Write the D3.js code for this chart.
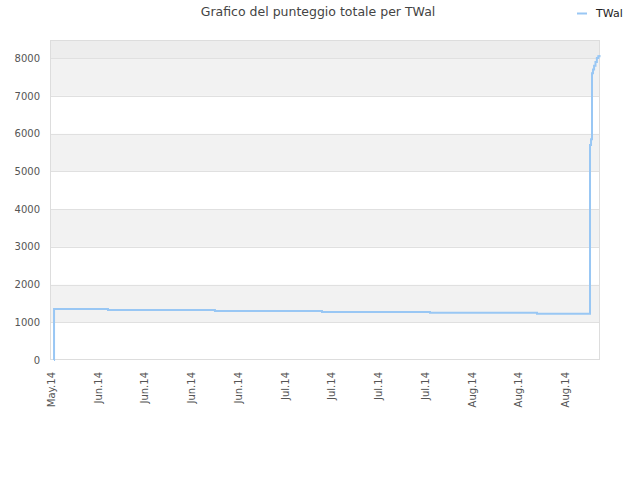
<!DOCTYPE html>
<html><head><meta charset="utf-8">
<script src="https://cdn.jsdelivr.net/npm/d3@7"></script>
<style>body{margin:0;background:#fff;}svg{display:block;font-family:"DejaVu Sans",sans-serif;}</style>
</head><body><svg id="c" width="640" height="480"></svg>
<script>
const title = "Grafico del punteggio totale per TWal";
const seriesName = "TWal";
const dates = ["2014-05-30T07:30","2014-05-30T07:31","2014-06-07T09:30","2014-06-23T10:00","2014-07-09T10:45","2014-07-25T15:00","2014-08-10T15:45","2014-08-18T14:20","2014-08-18T18:00","2014-08-18T21:30","2014-08-19T01:00","2014-08-19T05:00","2014-08-19T10:00","2014-08-19T15:00","2014-08-19T20:00","2014-08-20T00:30"];
const values = [0,1350,1325,1300,1275,1250,1225,5700,5850,7600,7700,7800,7900,8000,8050,8080];
const tickDates = ["2014-05-30","2014-06-06","2014-06-13","2014-06-20","2014-06-27","2014-07-04","2014-07-11","2014-07-18","2014-07-25","2014-08-01","2014-08-08","2014-08-15"];
const yTicks = [0,1000,2000,3000,4000,5000,6000,7000,8000];
const domainStart = "2014-05-29T17:00", domainEnd = "2014-08-20T02:15";
const yMax = 8480;

const parse = d3.timeParse("%Y-%m-%dT%H:%M");
const parseD = d3.timeParse("%Y-%m-%d");
const data = dates.map((d,i)=>({t:parse(d), v:values[i]}));
const svg = d3.select("#c");
const L=50,R=600,T=40,B=360;
const x = d3.scaleTime().domain([parse(domainStart),parse(domainEnd)]).range([L,R]);
const y = d3.scaleLinear().domain([0,yMax]).range([B,T]);

// bands
const bands = [];
for (let i=0;i<yTicks.length;i++){
  const lo=yTicks[i], hi=i+1<yTicks.length?yTicks[i+1]:yMax;
  let fill = i%2===1 ? "#f2f2f2" : "#ffffff";
  if (i===yTicks.length-1) fill="#ededed";
  bands.push({lo,hi,fill});
}
svg.append("g").selectAll("rect").data(bands).join("rect")
  .attr("x",L).attr("width",R-L).attr("y",d=>y(d.hi)).attr("height",d=>y(d.lo)-y(d.hi)).attr("fill",d=>d.fill);
svg.append("g").selectAll("line").data(yTicks.slice(1)).join("line")
  .attr("x1",L).attr("x2",R).attr("y1",d=>Math.round(y(d))+0.5).attr("y2",d=>Math.round(y(d))+0.5)
  .attr("stroke","#e0e0e0");
svg.append("rect").attr("x",L+0.5).attr("y",T+0.5).attr("width",R-L-1).attr("height",B-T-1)
  .attr("fill","none").attr("stroke","#dddddd");

// y axis
const ya = d3.axisLeft(y).tickValues(yTicks).tickSize(0).tickPadding(10).tickFormat(d3.format("d"));
const yg = svg.append("g").attr("transform",`translate(${L},0)`).call(ya);
yg.select(".domain").remove();
yg.selectAll("text").attr("fill","#555").style("font-size","10px").style("font-family","DejaVu Sans");

// x axis
const xa = d3.axisBottom(x).tickValues(tickDates.map(parseD)).tickSize(0).tickFormat(d3.timeFormat("%b.%y"));
const xg = svg.append("g").attr("transform",`translate(0,${B})`).call(xa);
xg.select(".domain").remove();
xg.selectAll("text").attr("fill","#555").style("font-size","10px").style("font-family","DejaVu Sans")
  .attr("text-anchor","end").attr("transform","rotate(-90)").attr("x",-12).attr("y",-1).attr("dy","0.35em");

// line
const line = d3.line().x(d=>x(d.t)).y(d=>y(d.v)).curve(d3.curveStepAfter);
svg.append("path").datum(data).attr("d",line).attr("fill","none").attr("stroke","#99c7f4").attr("stroke-width",2);

// title
svg.append("text").attr("x",318).attr("y",16).attr("text-anchor","middle").attr("fill","#444")
  .style("font-size","12.5px").text(title);
// legend
svg.append("line").attr("x1",577).attr("x2",587).attr("y1",13.5).attr("y2",13.5).attr("stroke","#99c7f4").attr("stroke-width",2);
svg.append("text").attr("x",596).attr("y",17).attr("fill","#222").style("font-size","11px").text(seriesName);
</script></body></html>
